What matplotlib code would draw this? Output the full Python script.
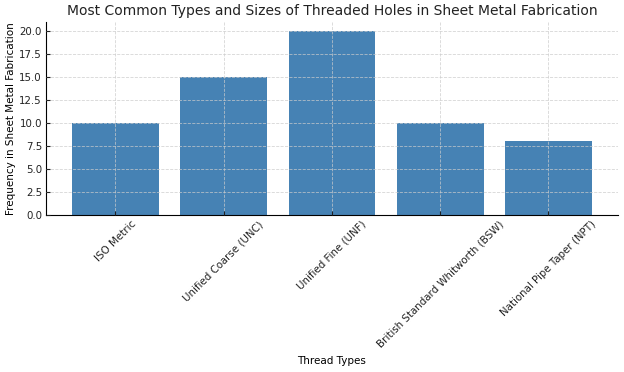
import matplotlib.pyplot as plt
from matplotlib.ticker import MultipleLocator

thread_types = ['ISO Metric', 'Unified Coarse (UNC)', 'Unified Fine (UNF)',
                'British Standard Whitworth (BSW)', 'National Pipe Taper (NPT)']
frequency = [10, 15, 20, 10, 8]

fig, ax = plt.subplots(figsize=(6.24, 3.72), dpi=100)
fig.subplots_adjust(left=0.074, right=0.99, top=0.941, bottom=0.422)

ax.bar(thread_types, frequency, color='steelblue', width=0.8)
ax.set_ylim(0, 21)
ax.yaxis.set_major_locator(MultipleLocator(2.5))
ax.set_title('Most Common Types and Sizes of Threaded Holes in Sheet Metal Fabrication',
             fontsize=10.0, color='#222222', pad=5)
ax.set_xlabel('Thread Types', fontsize=7.5, labelpad=5)
ax.set_ylabel('Frequency in Sheet Metal Fabrication', fontsize=7.5, labelpad=2)
ax.tick_params(labelsize=7.4, direction='in', length=3, pad=3, colors='#222222')
plt.setp(ax.get_xticklabels(), rotation=45, ha='center')

ax.grid(True, linestyle='--', color='#cccccc', linewidth=0.6, alpha=0.8)
ax.set_axisbelow(False)
for s in ['top', 'right']:
    ax.spines[s].set_visible(False)

plt.savefig('out.png', dpi=100)
